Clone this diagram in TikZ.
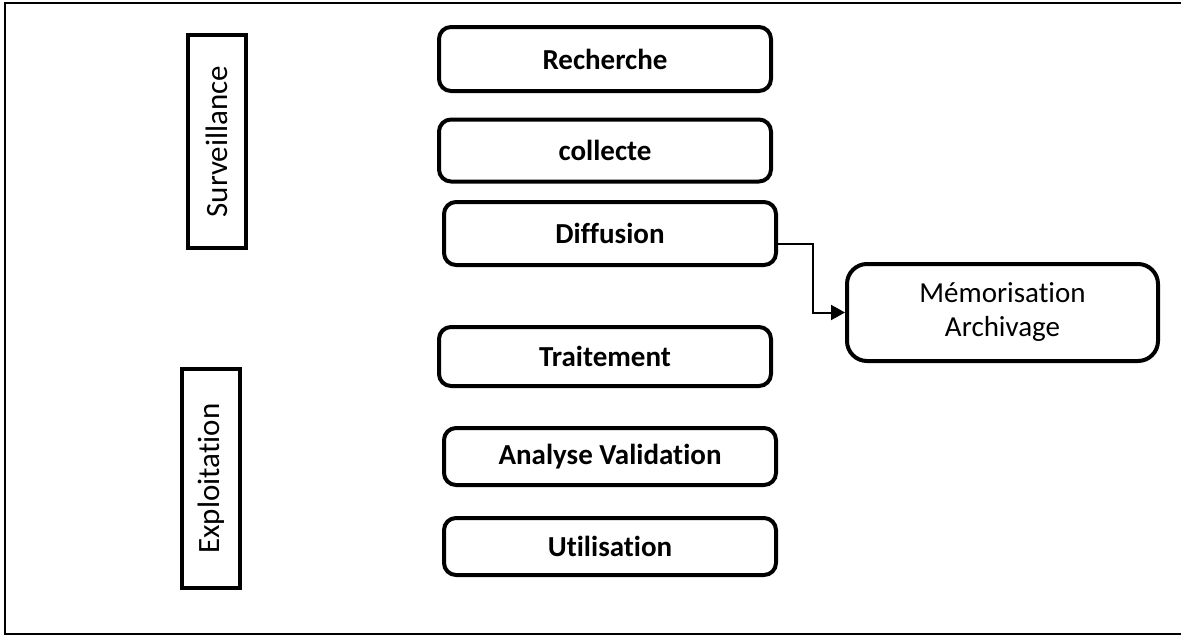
\documentclass[tikz,border=0pt]{standalone}
\usepackage{fontspec}
\setmainfont{Carlito}[Ligatures=NoCommon]
\usetikzlibrary{arrows.meta}
\begin{document}
\begin{tikzpicture}[x=1pt,y=-1pt,
  stepbox/.style={draw,line width=4pt,rounded corners=12pt,minimum width=332pt,minimum height=62pt,
    inner sep=0pt,font=\fontsize{29}{34}\selectfont\bfseries},
  phasebox/.style={draw,line width=4pt,inner sep=0pt,minimum width=58pt},
  phaselabel/.style={rotate=90,font=\fontsize{31}{36}\selectfont},
  storebox/.style={draw,line width=4pt,rounded corners=20pt,minimum width=311pt,minimum height=97pt,
    inner sep=0pt,align=center,font=\fontsize{29}{34}\selectfont},
  link/.style={line width=2pt,-{Triangle[length=14pt,width=15pt]}}]
\useasboundingbox (0,0) rectangle (1181,637);
% open outer frame
\draw[line width=1.5pt] (1183,3) -- (5,3) -- (5,634) -- (1183,634);

% phase labels
\node[phasebox,minimum height=213pt] (surv) at (217,141.5) {};
\node[phaselabel] at (surv.center) {Surveillance};
\node[phasebox,minimum height=219pt] (expl) at (211,478.5) {};
\node[phaselabel] at (expl.center) {Exploitation};

% process steps
\node[stepbox,minimum height=64pt] (rech) at (605,59) {Recherche};
\node[stepbox] (coll) at (605,150.5) {collecte};
\node[stepbox,minimum height=63pt] (diff) at (610,233.5) {Diffusion};
\node[stepbox,minimum height=59pt] (trait) at (605,356.5) {Traitement};
\node[stepbox,minimum height=57pt] (anal) at (610,456.5) {Analyse Validation};
\node[stepbox,minimum height=57pt] (util) at (610,546.5) {Utilisation};

% storage
\node[storebox] (mem) at (1002.5,312.5) {Mémorisation\\Archivage};

\coordinate (bend) at (813,244);
\draw[link] (diff.east |- bend) -- (bend) |- (mem.west);
\end{tikzpicture}
\end{document}
